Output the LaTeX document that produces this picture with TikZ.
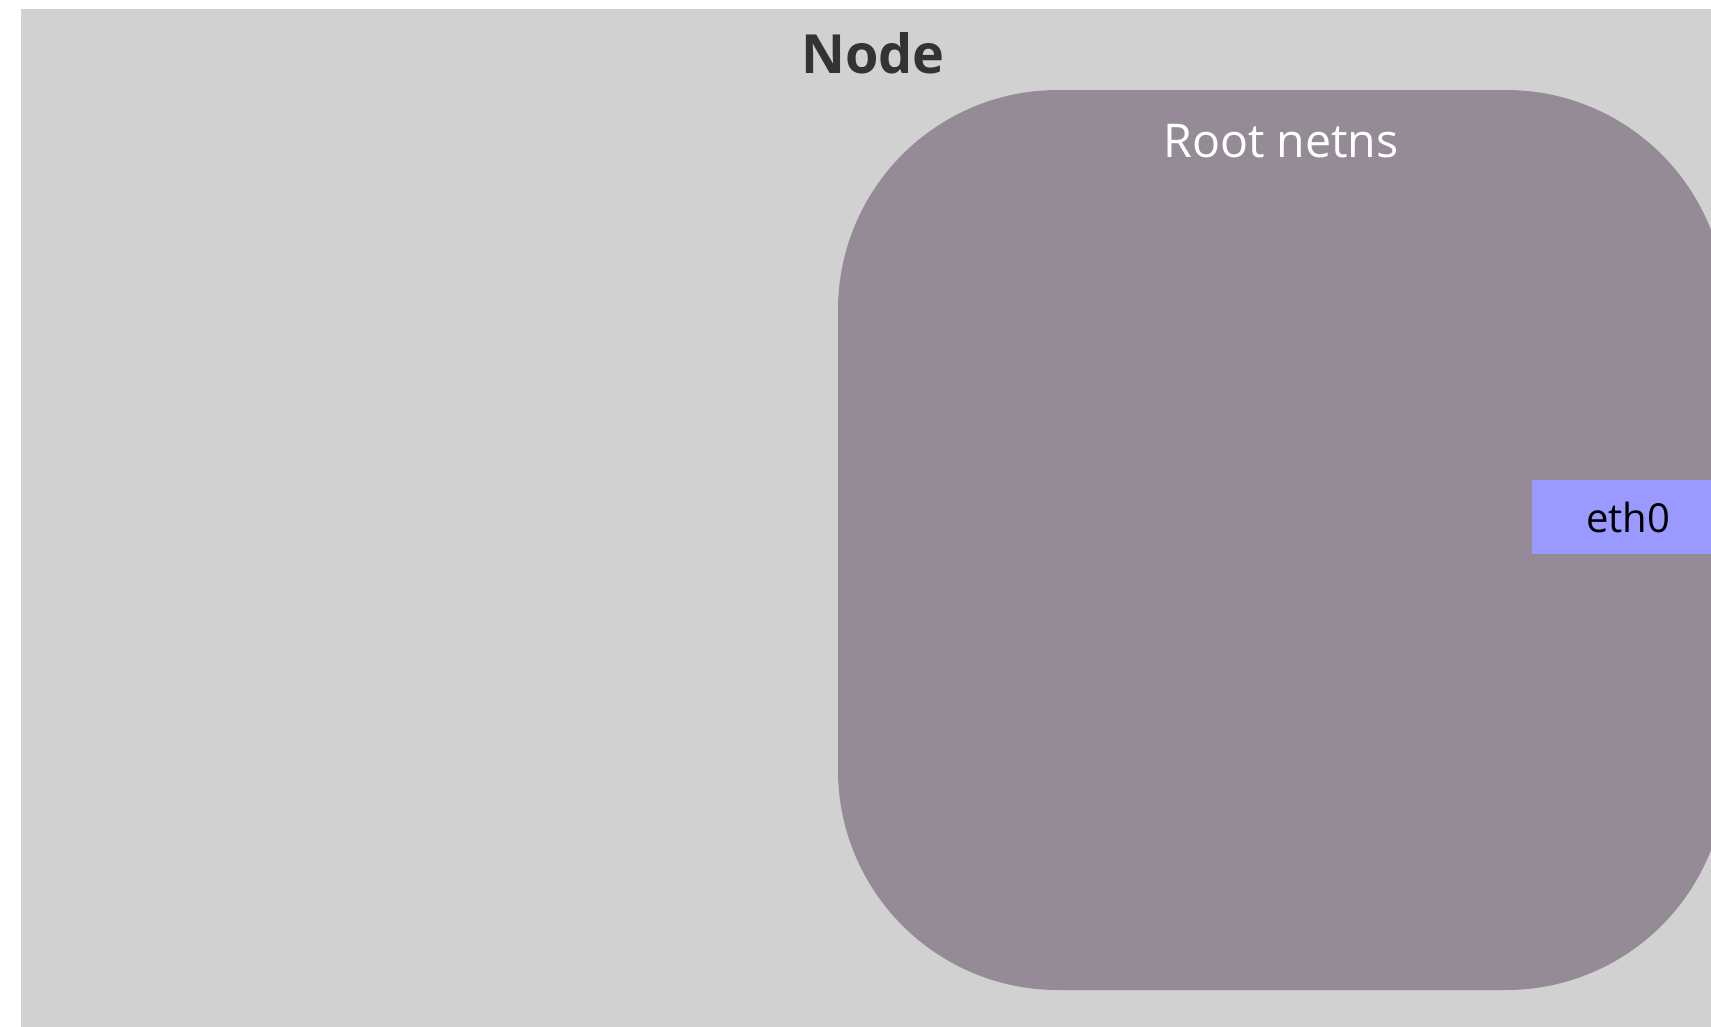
\documentclass[tikz,border=0pt]{standalone}
\usepackage{fontspec}
\setmainfont{Open Sans}
\definecolor{hostgrey}{HTML}{D1D1D1}
\definecolor{nsmauve}{HTML}{958B97}
\definecolor{ifblue}{HTML}{9999FF}
\definecolor{titledark}{HTML}{333333}
\tikzset{
  region/.style={draw=none, fill=hostgrey, rectangle, inner sep=0pt},
  netns/.style={draw=none, fill=nsmauve, rectangle, rounded corners=220pt, inner sep=0pt},
  iface/.style={draw=none, fill=ifblue, rectangle, inner sep=0pt, text=black,
    font=\fontsize{40}{48}\selectfont},
  title/.style={anchor=base, inner sep=0pt},
}
\begin{document}
\begin{tikzpicture}[x=1pt, y=-1pt]
  \useasboundingbox (0,0) rectangle (1711,1026);
  \clip (0,0) rectangle (1711,1026);
  \fill[white] (0,0) rectangle (1711,1026);
  % host node area
  \node[region, minimum width=1720pt, minimum height=1040pt, anchor=north west] (host) at (21,9) {};
  \node[title, text=titledark, font=\fontsize{54}{60}\selectfont\bfseries] (hosttitle) at (873,73) {Node};
  % root network namespace
  \node[netns, minimum width=888pt, minimum height=900pt] (rootns) at (1282,540) {};
  \node[title, text=white, font=\fontsize{46.5}{54}\selectfont] (nstitle) at (1281,157) {Root netns};
  % interface
  \node[iface, minimum width=192pt, minimum height=74pt] (eth0) at (1628,517) {eth0};
\end{tikzpicture}
\end{document}
